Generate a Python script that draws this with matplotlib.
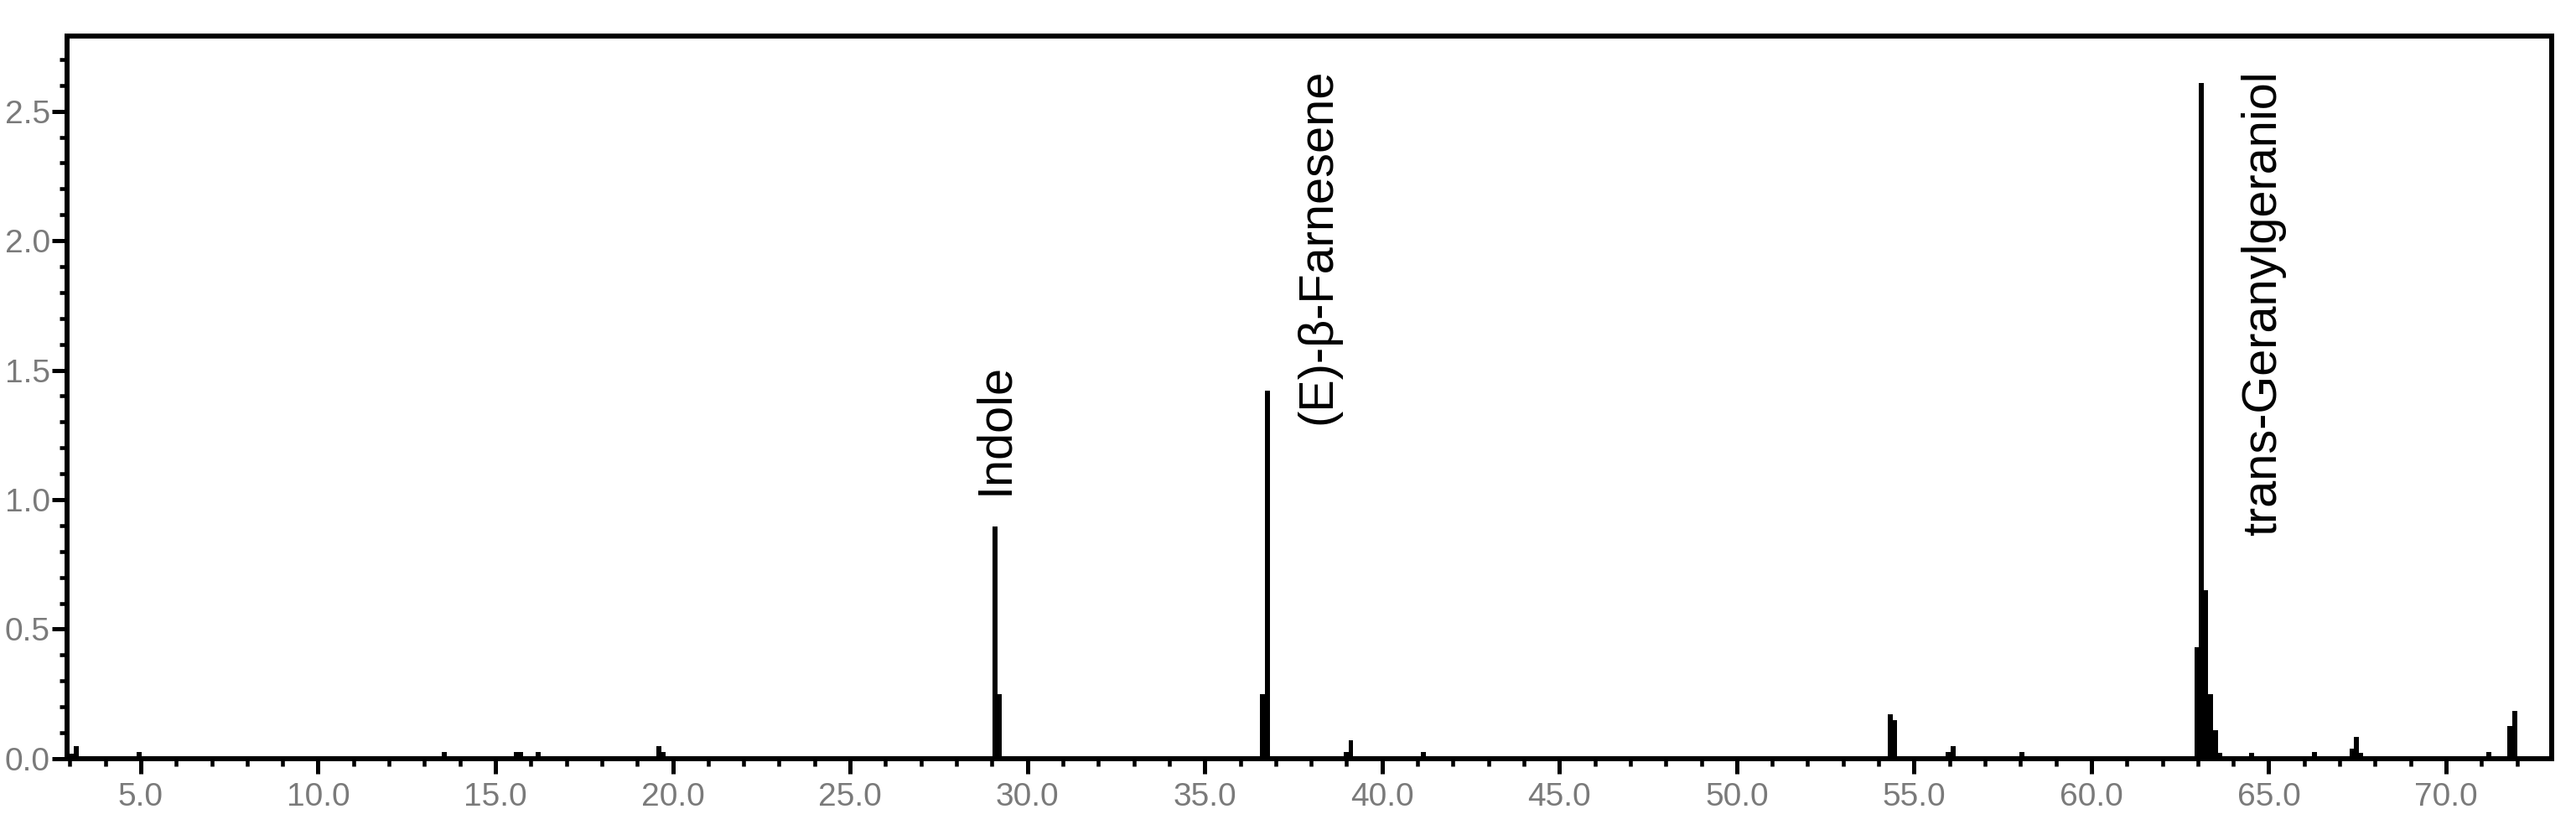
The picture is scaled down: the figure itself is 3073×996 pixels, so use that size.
import matplotlib
matplotlib.use('Agg')
import matplotlib.pyplot as plt
from matplotlib.ticker import MultipleLocator, FormatStrFormatter


# retention time (min) and detector response of every peak in the trace
rt = [3.05, 3.18, 4.95, 13.56, 15.6, 15.72, 16.2, 19.6, 19.72,
      29.08, 29.2, 36.63, 36.77, 39.0, 39.12, 41.17,
      54.33, 54.44, 55.95, 56.1, 58.04,
      62.97, 63.1, 63.22, 63.35, 63.5, 63.63, 64.52,
      66.28, 67.35, 67.46, 67.6, 71.2, 71.8, 71.93]
response = [0.02, 0.048, 0.027, 0.027, 0.027, 0.027, 0.027, 0.048, 0.027,
            0.895, 0.25, 0.25, 1.42, 0.027, 0.07, 0.027,
            0.17, 0.15, 0.027, 0.048, 0.027,
            0.43, 2.61, 0.65, 0.25, 0.11, 0.024, 0.024,
            0.027, 0.04, 0.085, 0.024, 0.027, 0.126, 0.185]

# named compounds and where their labels sit
compounds = ['Indole', '(E)-β-Farnesene', 'trans-Geranylgeraniol']
label_x = [29.08, 38.2, 64.84]
label_y = [1.02, 1.29, 0.86]

x_ticks = [5.0, 10.0, 15.0, 20.0, 25.0, 30.0, 35.0, 40.0, 45.0, 50.0, 55.0, 60.0, 65.0, 70.0]
y_ticks = [0.0, 0.5, 1.0, 1.5, 2.0, 2.5]

tick_font = ['Liberation Sans Narrow', 'Liberation Sans', 'DejaVu Sans']
label_font = ['Liberation Sans', 'DejaVu Sans']

fig = plt.figure(figsize=(30.73, 9.96), dpi=100)
ax = fig.add_axes([0.026, 0.0914, 0.9646, 0.8654])

ax.bar(rt, response, width=0.14, color='black', linewidth=0)

for name, lx, ly in zip(compounds, label_x, label_y):
    ax.text(lx, ly, name, rotation=90, ha='center', va='bottom',
            fontsize=41.5, family=label_font, color='black')

ax.set_xlim(2.92, 72.98)
ax.set_ylim(0, 2.79)

ax.set_xticks(x_ticks)
ax.set_yticks(y_ticks)
ax.xaxis.set_minor_locator(MultipleLocator(1.0))
ax.yaxis.set_minor_locator(MultipleLocator(0.1))
ax.xaxis.set_major_formatter(FormatStrFormatter('%.1f'))
ax.yaxis.set_major_formatter(FormatStrFormatter('%.1f'))

for s in ax.spines.values():
    s.set_linewidth(4.3)

ax.tick_params(which='major', direction='out', length=13, width=3.6,
               labelsize=28, labelcolor='#7a7a7a')
ax.tick_params(which='minor', direction='out', length=6.5, width=3.3)
ax.tick_params(axis='x', which='major', pad=7)
ax.tick_params(axis='y', which='major', pad=1.5)
for lab in ax.get_xticklabels() + ax.get_yticklabels():
    lab.set_family(tick_font)

fig.savefig('out.png', dpi=100)
